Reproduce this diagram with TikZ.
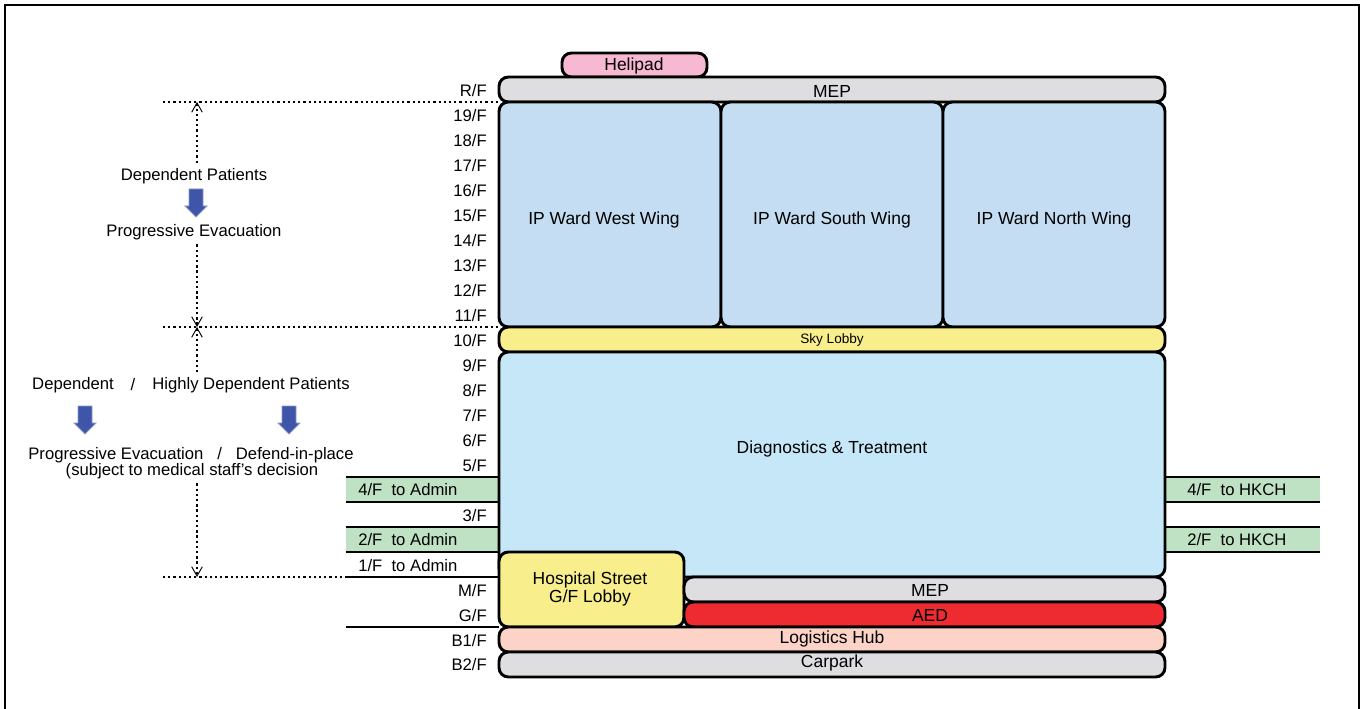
\documentclass[tikz,border=0pt]{standalone}
\usepackage{fontspec}
\setmainfont{Liberation Sans}
\usepackage{tikz}
\usetikzlibrary{arrows.meta,calc,positioning}
\usepackage{xcolor}

\definecolor{wardblue}{HTML}{C4DDF2}
\definecolor{dtblue}{HTML}{C5E7F7}
\definecolor{lobbyyellow}{HTML}{F8EE8C}
\definecolor{mepgrey}{HTML}{DEDEE0}
\definecolor{helipink}{HTML}{F7B8D2}
\definecolor{aedred}{HTML}{EE2B30}
\definecolor{logsalmon}{HTML}{FCD3C6}
\definecolor{linkgreen}{HTML}{BFE1C4}
\definecolor{evacblue}{HTML}{3E55A8}

\tikzset{
  blk/.style={draw=black, line width=2.2pt, rounded corners=7pt},
  blktext/.style={font=\fontsize{13.1}{13.5}\selectfont},
  flr/.style={anchor=east, inner sep=0pt},
  band/.style={line width=2.2pt},
  evacline/.style={line width=2pt, dash pattern=on 1.7pt off 2.2pt},
  evac/.style={fill=evacblue, draw=evacblue!60!white, line width=0.6pt}
}

\begin{document}
\begin{tikzpicture}[x=0.75pt, y=-0.75pt, every node/.style={font=\fontsize{12.5}{13}\selectfont}]
\useasboundingbox (0,0) rectangle (1363,709);
% cornice
\draw[line width=1.6pt] (5,5) rectangle (1359,722);
% linee di riferimento tratteggiate
\coordinate (vtop) at (197,102);
\coordinate (vmid) at (197,327);
\coordinate (vbot) at (197,577);
\draw[evacline] (163,102) -- (499,102);
\draw[evacline] (163,327) -- (499,327);
\draw[evacline] (163,577) -- (346,577);
% collegamenti verso Admin
\fill[linkgreen] (346,477) rectangle (499,502);
\fill[linkgreen] (346,527) rectangle (499,552);
\draw[band] (346,477) -- (499,477) (346,502) -- (499,502);
\draw[band] (346,527) -- (499,527) (346,552) -- (499,552);
\draw[band] (346,577) -- (499,577) (346,627) -- (499,627);
\node[anchor=west, inner sep=0pt] (adm4) at (358,490) {4/F\ \ to Admin};
\node[anchor=west, inner sep=0pt] (adm2) at (358,540) {2/F\ \ to Admin};
\node[anchor=west, inner sep=0pt] (adm1) at (358,566) {1/F\ \ to Admin};
% collegamenti verso HKCH
\fill[linkgreen] (1165,477) rectangle (1320,502);
\fill[linkgreen] (1165,527) rectangle (1320,552);
\draw[band] (1165,477) -- (1320,477) (1165,502) -- (1320,502);
\draw[band] (1165,527) -- (1320,527) (1165,552) -- (1320,552);
\node[anchor=west, inner sep=0pt] (hk4) at (1187,490) {4/F\ \ to HKCH};
\node[anchor=west, inner sep=0pt] (hk2) at (1187,540) {2/F\ \ to HKCH};
% tetto
\draw[blk, fill=helipink] (562,53) rectangle (707,77);
\node[blktext] (heli) at (634,66) {Helipad};
\draw[blk, fill=mepgrey] (499,77) rectangle (1165,102);
\node[blktext] (meptop) at (832,91) {MEP};
% reparti
\draw[blk, fill=wardblue] (499,102) rectangle (721,327);
\draw[blk, fill=wardblue] (721,102) rectangle (943,327);
\draw[blk, fill=wardblue] (943,102) rectangle (1165,327);
\node[blktext] (west) at (604,220) {IP Ward West Wing};
\node[blktext] (south) at (832,220) {IP Ward South Wing};
\node[blktext] (north) at (1054,220) {IP Ward North Wing};
\draw[blk, fill=lobbyyellow] (499,327) rectangle (1165,352);
\node[font=\fontsize{10.2}{11}\selectfont] (lobby) at (832,340) {Sky Lobby};
% diagnostica
\draw[blk, fill=dtblue] (499,352) rectangle (1165,577);
\node[blktext] (diag) at (832,449) {Diagnostics \& Treatment};
\draw[blk, fill=lobbyyellow] (499,552) rectangle (684,627);
\node[blktext, align=center] (street) at (590,589) {Hospital Street\\G/F Lobby};
\draw[blk, fill=mepgrey] (684,577) rectangle (1165,602);
\node[blktext] (meplow) at (930,590) {MEP};
\draw[blk, fill=aedred] (684,602) rectangle (1165,627);
\node[blktext] (aed) at (930,615) {AED};
\draw[blk, fill=logsalmon] (499,627) rectangle (1165,652);
\node[blktext] (logis) at (832,639) {Logistics Hub};
\draw[blk, fill=mepgrey] (499,652) rectangle (1165,677);
\node[blktext] (car) at (832,663) {Carpark};
% piani
\node[flr] (frf) at (487,91) {R/F};
\node[flr] (f19) at (487,116) {19/F};
\node[flr] (f18) at (487,141) {18/F};
\node[flr] (f17) at (487,166) {17/F};
\node[flr] (f16) at (487,191) {16/F};
\node[flr] (f15) at (487,216) {15/F};
\node[flr] (f14) at (487,241) {14/F};
\node[flr] (f13) at (487,266) {13/F};
\node[flr] (f12) at (487,291) {12/F};
\node[flr] (f11) at (487,316) {11/F};
\node[flr] (f10) at (487,341) {10/F};
\node[flr] (f9) at (487,366) {9/F};
\node[flr] (f8) at (487,391) {8/F};
\node[flr] (f7) at (487,416) {7/F};
\node[flr] (f6) at (487,441) {6/F};
\node[flr] (f5) at (487,466) {5/F};
\node[flr] (f3) at (487,516) {3/F};
\node[flr] (fm) at (487,591) {M/F};
\node[flr] (fg) at (487,616) {G/F};
\node[flr] (fb1) at (487,641) {B1/F};
\node[flr] (fb2) at (487,665) {B2/F};
% evacuazione piani alti
\node (dp) at (194,176) {Dependent Patients};
\node (pe) at (194,232) {Progressive Evacuation};
\draw[evacline, {Straight Barb[length=7pt,width=8pt,line width=0.7pt]}-] (vtop) -- (vtop |- dp.north);
\draw[evacline, -{Straight Barb[length=7pt,width=8pt,line width=0.7pt]}] (vtop |- pe.south) -- (vmid);
\draw[evac, shift={(196,189)}] (-7,0) -- (7,0) -- (7,17) -- (11,17) -- (0,28) -- (-11,17) -- (-7,17) -- cycle;
% evacuazione piani bassi
\node (dep) at (73,385) {Dependent};
\node (slash) at (133,385) {/};
\node (hdp) at (251,385) {Highly Dependent Patients};
\node (pe2) at (191,455) {Progressive Evacuation\hspace{7pt} / \hspace{7pt}Defend-in-place};
\node (subj) at (192,471) {(subject to medical staff's decision};
\draw[evacline, {Straight Barb[length=7pt,width=8pt,line width=0.7pt]}-] (vmid) -- (vmid |- hdp.north);
\draw[evacline, -{Straight Barb[length=7pt,width=8pt,line width=0.7pt]}] (vmid |- subj.south) -- (vbot);
\draw[evac, shift={(85,406)}] (-7,0) -- (7,0) -- (7,17) -- (11,17) -- (0,28) -- (-11,17) -- (-7,17) -- cycle;
\draw[evac, shift={(289,406)}] (-7,0) -- (7,0) -- (7,17) -- (11,17) -- (0,28) -- (-11,17) -- (-7,17) -- cycle;
\end{tikzpicture}
\end{document}
